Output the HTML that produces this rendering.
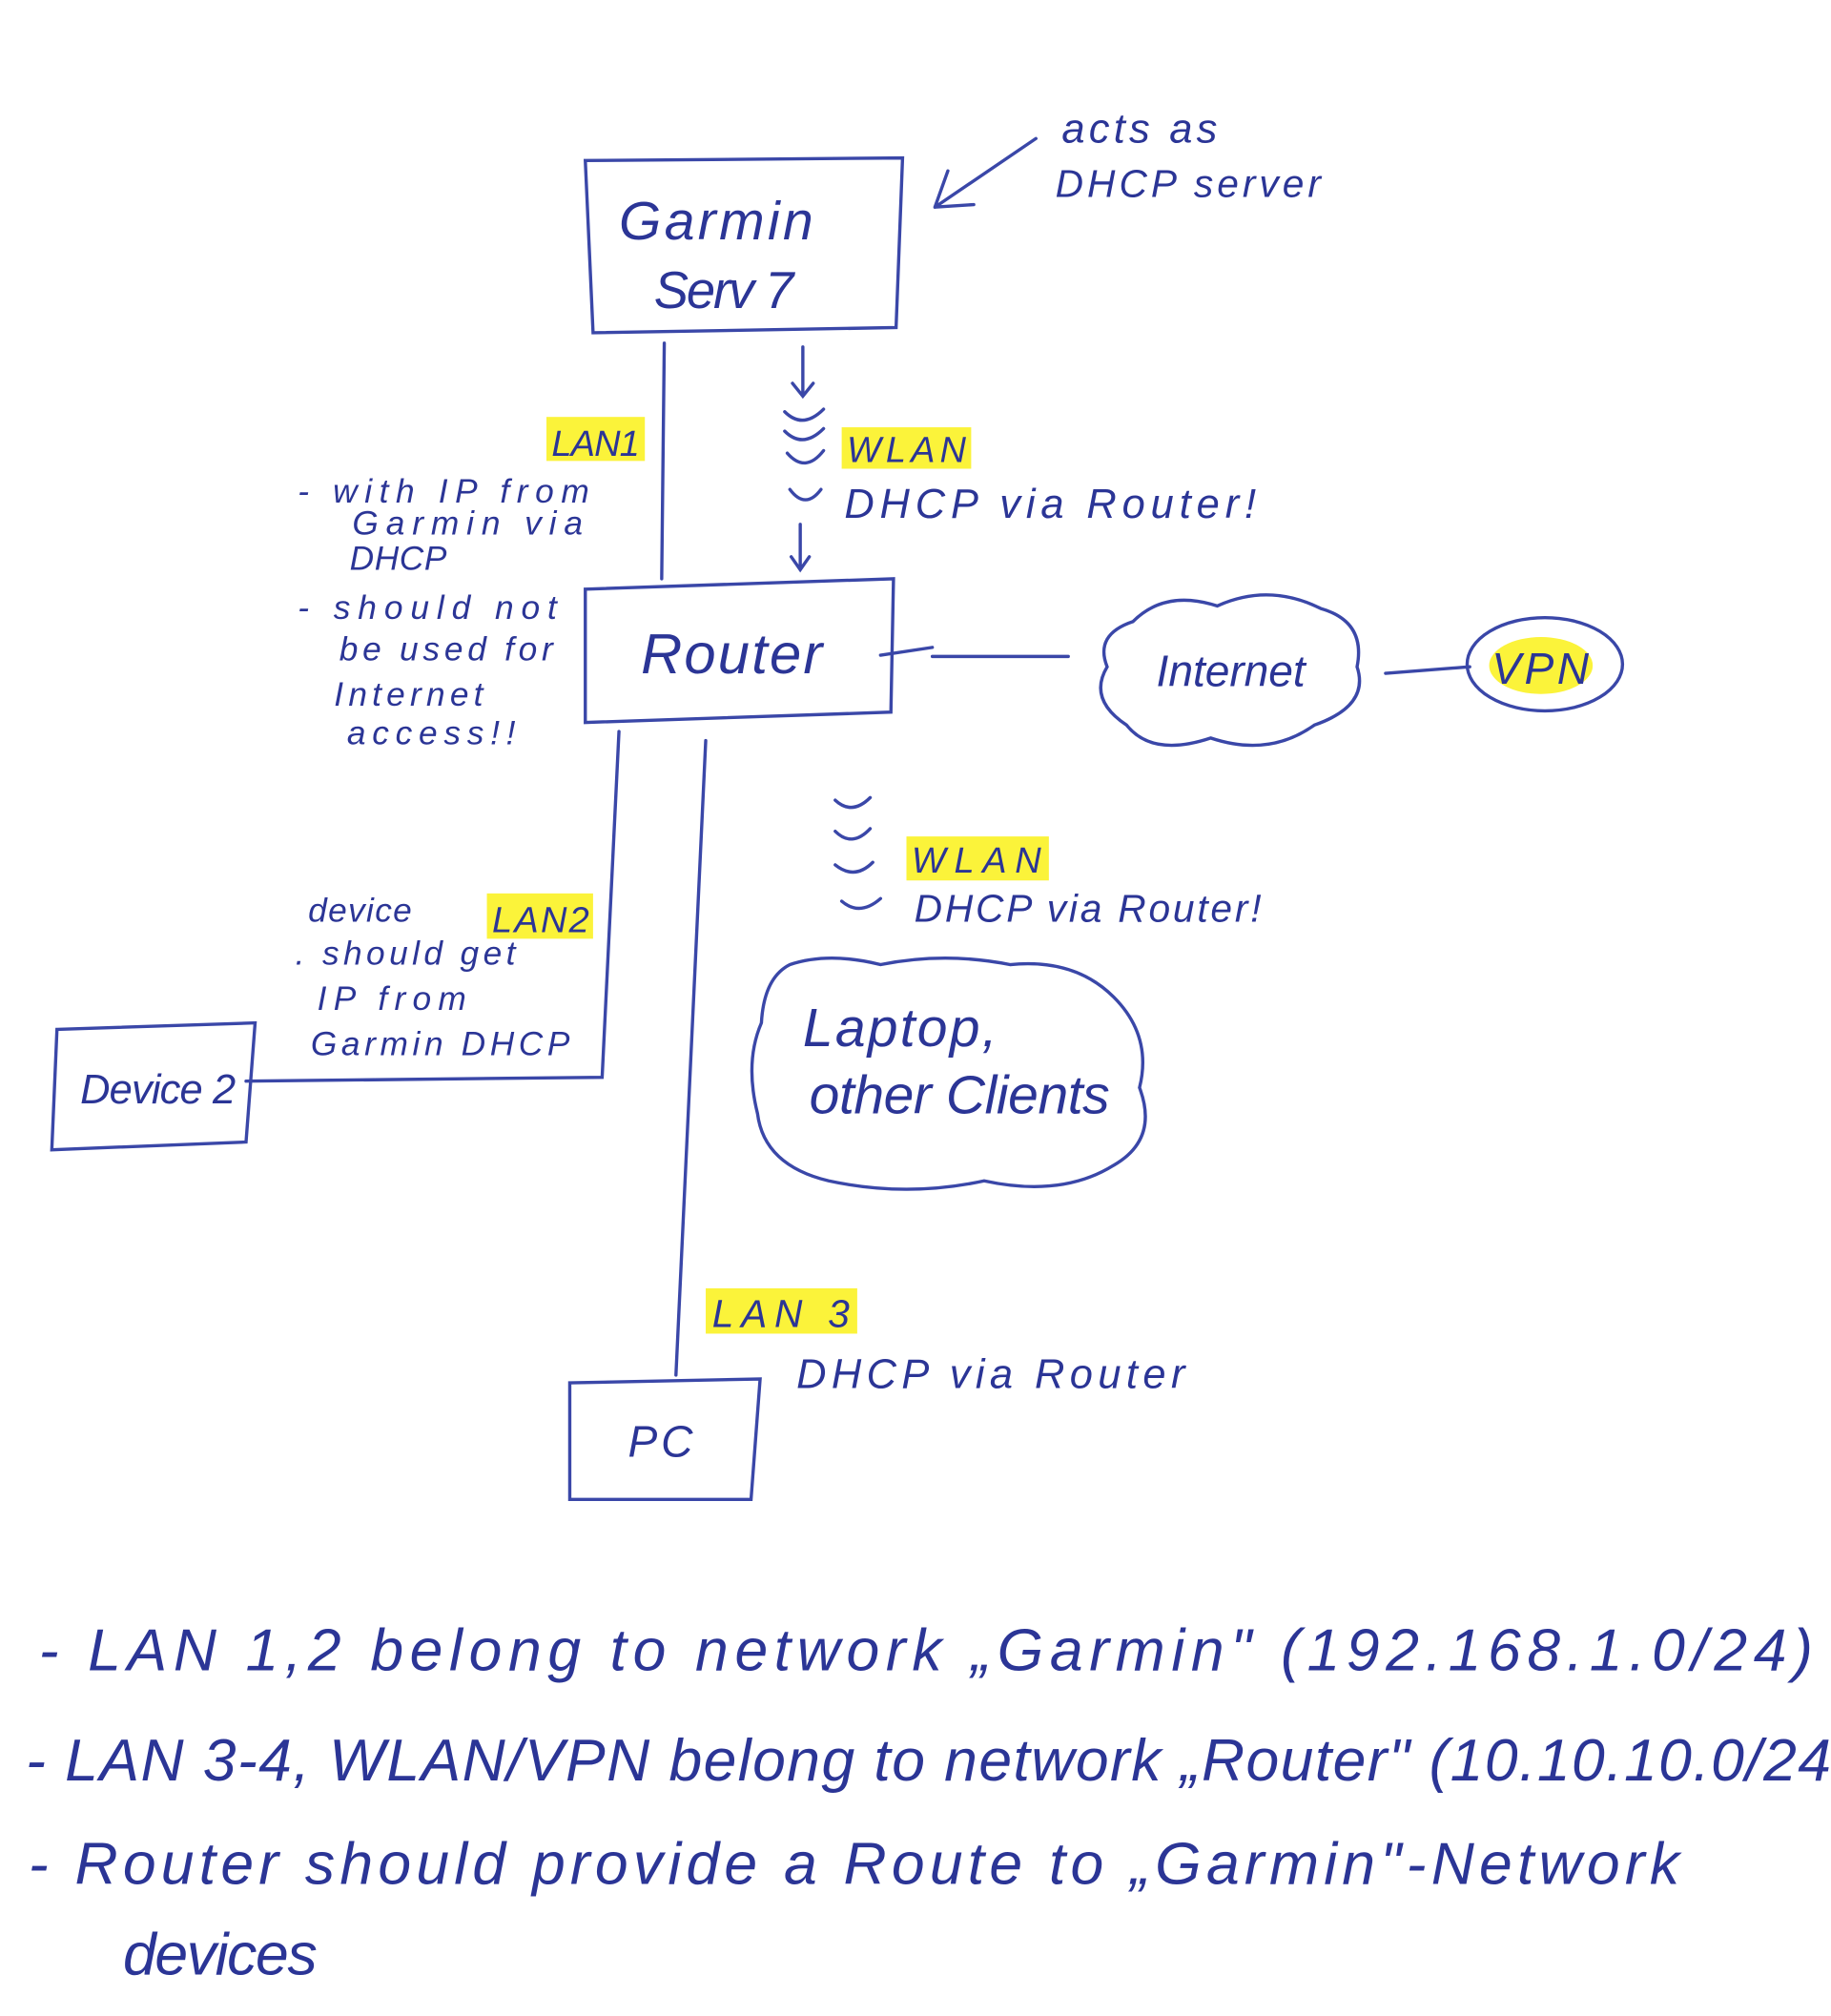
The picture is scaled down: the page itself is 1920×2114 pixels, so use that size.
<!DOCTYPE html>
<html><head><meta charset="utf-8"><style>
html,body{margin:0;padding:0;background:#fff;}
svg{display:block;}
text{font-family:"Liberation Sans",sans-serif;font-style:italic;fill:#2b3596;}
</style></head><body>
<svg width="1920" height="2114" viewBox="0 0 1414 1557" preserveAspectRatio="none" xmlns="http://www.w3.org/2000/svg">
<rect width="1414" height="1557" fill="#fff"/>
<g fill="#fbf33a">
<rect x="422" y="322" width="76" height="34"/>
<rect x="650" y="330" width="100" height="32"/>
<rect x="376" y="690" width="82" height="35"/>
<rect x="700" y="646" width="110" height="34"/>
<rect x="545" y="995" width="117" height="35"/>
<ellipse cx="1190" cy="514" rx="40" ry="22"/>
</g>
<g fill="none" stroke="#3a47a8" stroke-width="2.5" stroke-linecap="round">
<path d="M452 124 L697 122 L692 253 L458 257 Z"/>
<path d="M800 107 L722 160 M722 160 L752 158 M722 160 L732 132"/>
<path d="M513 265 L511 447"/>
<path d="M452 455 L690 447 L688 550 L452 558 Z"/>
<path d="M680 506 L720 500 M720 507 L825 507"/>
<path d="M875 480 Q900 455 940 468 Q980 450 1020 470 Q1055 480 1048 515 Q1058 545 1015 560 Q980 585 935 570 Q890 585 870 560 Q840 540 855 515 Q845 490 875 480 Z"/>
<path d="M1070 520 L1135 515"/>
<ellipse cx="1193" cy="513" rx="60" ry="36"/>
<path d="M478 565 L465 832 L190 835"/>
<path d="M44 795 L197 790 L190 882 L40 888 Z"/>
<path d="M545 572 L522 1062"/>
<path d="M440 1068 L587 1065 L580 1158 L440 1158 Z"/>
<path d="M610 745 Q640 735 680 745 Q730 735 780 745 Q830 740 860 770 Q890 800 880 840 Q895 880 860 900 Q820 925 760 912 Q700 925 640 912 Q590 900 585 860 Q575 820 588 790 Q590 755 610 745 Z"/>
<path d="M620 268 L620 305 M612 296 L620 306 L628 296"/>
<path d="M606 318 Q620 332 636 316 M606 333 Q620 347 636 331 M608 350 Q622 366 636 348 M610 378 Q622 394 634 378"/>
<path d="M618 405 L618 440 M611 430 L618 440 L625 430"/>
<path d="M645 618 Q658 630 672 616 M645 642 Q658 655 672 640 M645 668 Q660 680 674 666 M650 696 Q664 708 680 694"/>
</g>
<text x="478" y="185" font-size="42" textLength="150">Garmin</text>
<text x="505" y="238" font-size="40" textLength="108">Serv 7</text>
<text x="820" y="110" font-size="32" textLength="120">acts as</text>
<text x="815" y="152" font-size="30" textLength="205">DHCP server</text>
<text x="426" y="352" font-size="28" textLength="68">LAN1</text>
<text x="654" y="357" font-size="28" textLength="92">WLAN</text>
<text x="652" y="400" font-size="32" textLength="318">DHCP via Router!</text>
<g font-size="26">
<text x="230" y="388" textLength="225">- with IP from</text>
<text x="272" y="413" textLength="178">Garmin via</text>
<text x="270" y="440" textLength="75">DHCP</text>
<text x="230" y="478" textLength="200">- should not</text>
<text x="262" y="510" textLength="165">be used for</text>
<text x="258" y="545" textLength="115">Internet</text>
<text x="268" y="575" textLength="130">access!!</text>
<text x="238" y="712" textLength="80">device</text>
<text x="228" y="745" textLength="170">. should get</text>
<text x="245" y="780" textLength="115">IP from</text>
<text x="240" y="815" textLength="200">Garmin DHCP</text>
</g>
<text x="495" y="520" font-size="44" textLength="140">Router</text>
<text x="893" y="530" font-size="34" textLength="115">Internet</text>
<text x="1152" y="528" font-size="34" textLength="75">VPN</text>
<text x="380" y="720" font-size="28" textLength="75">LAN2</text>
<text x="62" y="852" font-size="32" textLength="120">Device 2</text>
<text x="704" y="674" font-size="28" textLength="100">WLAN</text>
<text x="706" y="712" font-size="30" textLength="268">DHCP via Router!</text>
<text x="620" y="808" font-size="42" textLength="150">Laptop,</text>
<text x="625" y="860" font-size="42" textLength="232">other Clients</text>
<text x="550" y="1025" font-size="30" textLength="106">LAN 3</text>
<text x="615" y="1072" font-size="32" textLength="300">DHCP via Router</text>
<text x="485" y="1125" font-size="34" textLength="50">PC</text>
<g font-size="46">
<text x="30" y="1290" textLength="1370">-    LAN 1,2   belong  to  network  „Garmin"   (192.168.1.0/24)</text>
<text x="20" y="1375" textLength="1394">-   LAN 3-4, WLAN/VPN belong  to  network  „Router" (10.10.10.0/24</text>
<text x="22" y="1455" textLength="1275">-  Router should  provide  a  Route  to „Garmin"-Network</text>
<text x="95" y="1525" textLength="150">devices</text>
</g>
</svg>
</body></html>
